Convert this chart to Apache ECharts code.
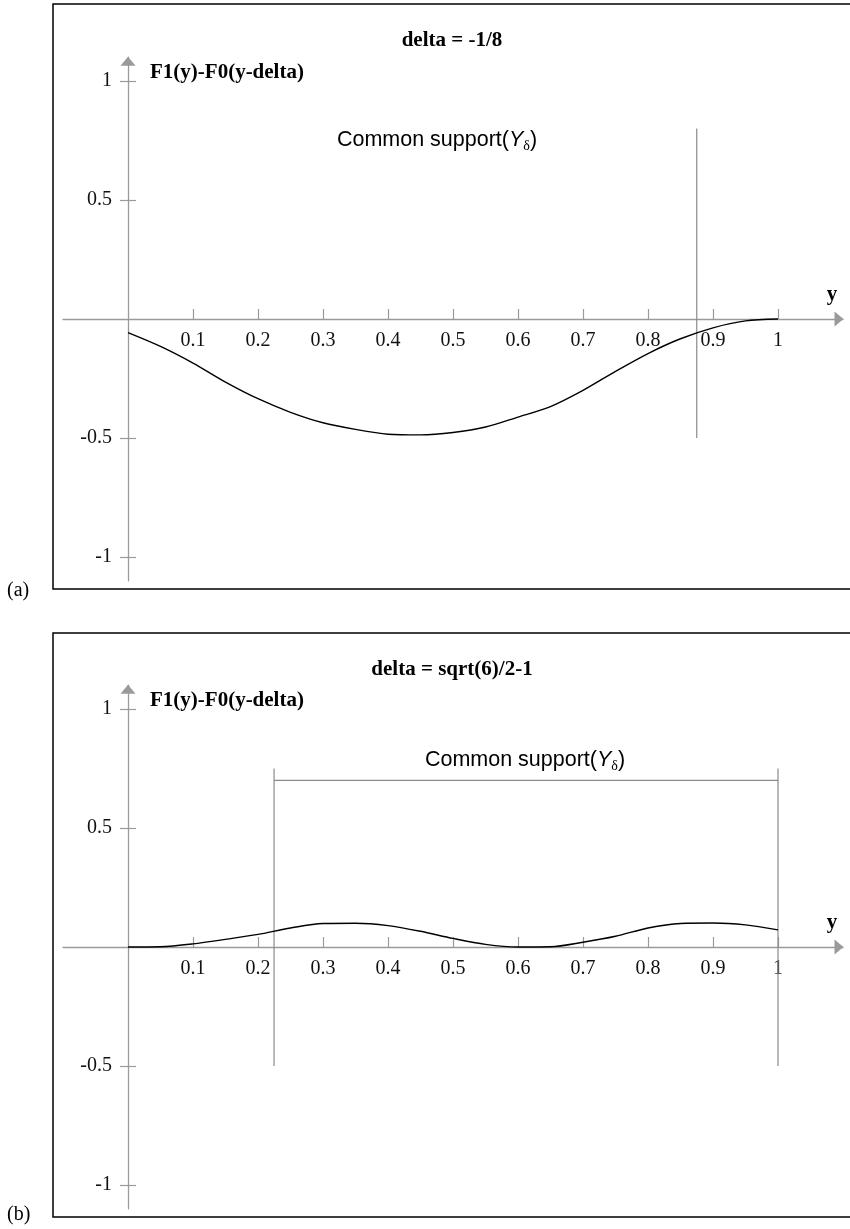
<!DOCTYPE html>
<html><head><meta charset="utf-8">
<script src="https://cdn.jsdelivr.net/npm/echarts@6/dist/echarts.min.js"></script>
<style>html,body{margin:0;padding:0;background:#fff}#c{width:850px;height:1229px}</style>
</head><body><div id="c"></div>
<script>
// ---- data ----
const xValues = [0, 0.05, 0.1, 0.15, 0.2, 0.25, 0.3, 0.35, 0.4, 0.45, 0.5, 0.55, 0.6, 0.65, 0.7, 0.75, 0.8, 0.85, 0.9, 0.95, 1];
const curveA = [-0.057, -0.115, -0.185, -0.265, -0.335, -0.392, -0.436, -0.464, -0.484, -0.487, -0.477, -0.454, -0.412, -0.368, -0.300, -0.220, -0.145, -0.083, -0.037, -0.008, 0.000];
const curveB = [0.000, 0.001, 0.013, 0.032, 0.053, 0.080, 0.099, 0.100, 0.090, 0.066, 0.036, 0.011, 0.000, 0.001, 0.020, 0.045, 0.080, 0.099, 0.101, 0.093, 0.072];
const xTicks = [0.1, 0.2, 0.3, 0.4, 0.5, 0.6, 0.7, 0.8, 0.9, 1];
const yTicks = [-1, -0.5, 0.5, 1];
const panelTitles = ['delta = -1/8', 'delta = sqrt(6)/2-1'];
const panelTags = ['(a)', '(b)'];
const yName = 'F1(y)-F0(y-delta)';
const xName = 'y';
const supportA = [[[0.875, -0.5], [0.875, 0.8]]];
const supportB = [[[0.2247, -0.5], [0.2247, 0.75]], [[0.2247, 0.7], [1, 0.7]], [[1, -0.5], [1, 0.75]]];

// ---- styling ----
const SERIF = "'Liberation Serif','Times New Roman',serif";
const SANS = "'Liberation Sans',Arial,sans-serif";
const AX = '#9a9a9a';
const GRID_H = 523.6;
const grids = [{ left: 63, right: 7, top: 57.2, height: GRID_H }, { left: 63, right: 7, top: 685.2, height: GRID_H }];
// labels sit on the grid edge in v6, so shift them back next to the zero-crossing axis lines
const X_LABEL_MARGIN = 12 - GRID_H / 2;
const Y_LABEL_MARGIN = 16 - 65;

function mkX(g) {
  return {
    type: 'value', gridIndex: g, min: -0.1, max: 1.1,
    axisLine: { onZero: true, symbol: ['none', 'triangle'], symbolSize: [15, 9], symbolOffset: [0, -4], lineStyle: { color: AX, width: 1.3 } },
    axisTick: { inside: true, length: 10, customValues: xTicks, lineStyle: { color: AX, width: 1.2 } },
    axisLabel: { customValues: xTicks, margin: X_LABEL_MARGIN, color: '#111', fontFamily: SERIF, fontSize: 20, formatter: v => String(v) },
    splitLine: { show: false },
    name: xName, nameLocation: 'end', nameGap: -11,
    nameTextStyle: { fontFamily: SERIF, fontWeight: 'bold', fontSize: 21, color: '#000', align: 'center', verticalAlign: 'bottom', padding: [0, 0, 14, 0] }
  };
}
function mkY(g) {
  return {
    type: 'value', gridIndex: g, min: -1.1, max: 1.1, position: 'left',
    axisLine: { onZero: true, symbol: ['none', 'triangle'], symbolSize: [15, 9], symbolOffset: [0, -4], lineStyle: { color: AX, width: 1.3 } },
    axisTick: { inside: false, length: 8, customValues: yTicks, lineStyle: { color: AX, width: 1.2 } },
    axisLabel: { customValues: yTicks, margin: Y_LABEL_MARGIN, color: '#111', fontFamily: SERIF, fontSize: 20, formatter: v => String(v) },
    splitLine: { show: false },
    name: yName, nameLocation: 'end', nameGap: -15,
    nameTextStyle: { fontFamily: SERIF, fontWeight: 'bold', fontSize: 21, color: '#000', align: 'left', verticalAlign: 'middle', padding: [0, 0, 0, 22] }
  };
}
function mkY2(g) {
  return {
    type: 'value', gridIndex: g, min: -1.1, max: 1.1, position: 'left',
    axisLine: { show: false, onZero: true, onZeroAxisIndex: g },
    axisTick: { inside: true, length: 8, customValues: yTicks, lineStyle: { color: AX, width: 1.2 } },
    axisLabel: { show: false }, splitLine: { show: false }
  };
}
function curveSeries(g, vals) {
  return { type: 'line', xAxisIndex: g, yAxisIndex: 2 * g, data: xValues.map((x, i) => [x, vals[i]]), showSymbol: false, smooth: 0.3, silent: true, lineStyle: { color: '#000', width: 1.4 }, z: 5 };
}
function segSeries(g, segs) {
  return segs.map(s => ({ type: 'line', xAxisIndex: g, yAxisIndex: 2 * g, data: s, showSymbol: false, silent: true, lineStyle: { color: '#8a8a8a', width: 1.2 }, z: 3 }));
}
const richSupport = {
  i: { fontFamily: SANS, fontStyle: 'italic', fontSize: 21.5, lineHeight: 26, color: '#000' },
  s: { fontFamily: SERIF, fontSize: 14, lineHeight: 14, verticalAlign: 'bottom', color: '#000' }
};
function supportTitle(x, y) {
  return { text: 'Common support({i|Y}{s|δ})', left: x, top: y, textAlign: 'center', textVerticalAlign: 'middle', padding: 0,
    textStyle: { fontFamily: SANS, fontSize: 21.5, fontWeight: 'normal', lineHeight: 26, color: '#000', rich: richSupport } };
}
function boldTitle(t, x, y) {
  return { text: t, left: x, top: y, textAlign: 'center', textVerticalAlign: 'middle', padding: 0,
    textStyle: { fontFamily: SERIF, fontSize: 21, fontWeight: 'bold', color: '#000' } };
}
function tagTitle(t, y) {
  return { text: t, left: 7, top: y, textAlign: 'left', textVerticalAlign: 'middle', padding: 0,
    textStyle: { fontFamily: SERIF, fontSize: 20, fontWeight: 'normal', color: '#000' } };
}

const chart = echarts.init(document.getElementById('c'), null, { renderer: 'canvas' });
chart.setOption({
  animation: false,
  backgroundColor: '#fff',
  grid: grids,
  xAxis: [mkX(0), mkX(1)],
  yAxis: [mkY(0), mkY2(0), mkY(1), mkY2(1)],
  title: [
    boldTitle(panelTitles[0], 452, 41),
    boldTitle(panelTitles[1], 452, 670),
    supportTitle(437, 140),
    supportTitle(525, 760),
    tagTitle(panelTags[0], 591),
    tagTitle(panelTags[1], 1215)
  ],
  graphic: [
    { type: 'rect', silent: true, shape: { x: 53, y: 4, width: 830, height: 585 }, style: { fill: 'none', stroke: '#000', lineWidth: 1.5 } },
    { type: 'rect', silent: true, shape: { x: 53, y: 633, width: 830, height: 584 }, style: { fill: 'none', stroke: '#000', lineWidth: 1.5 } }
  ],
  series: [
    curveSeries(0, curveA),
    curveSeries(1, curveB),
    ...segSeries(0, supportA),
    ...segSeries(1, supportB)
  ]
});
</script></body></html>
